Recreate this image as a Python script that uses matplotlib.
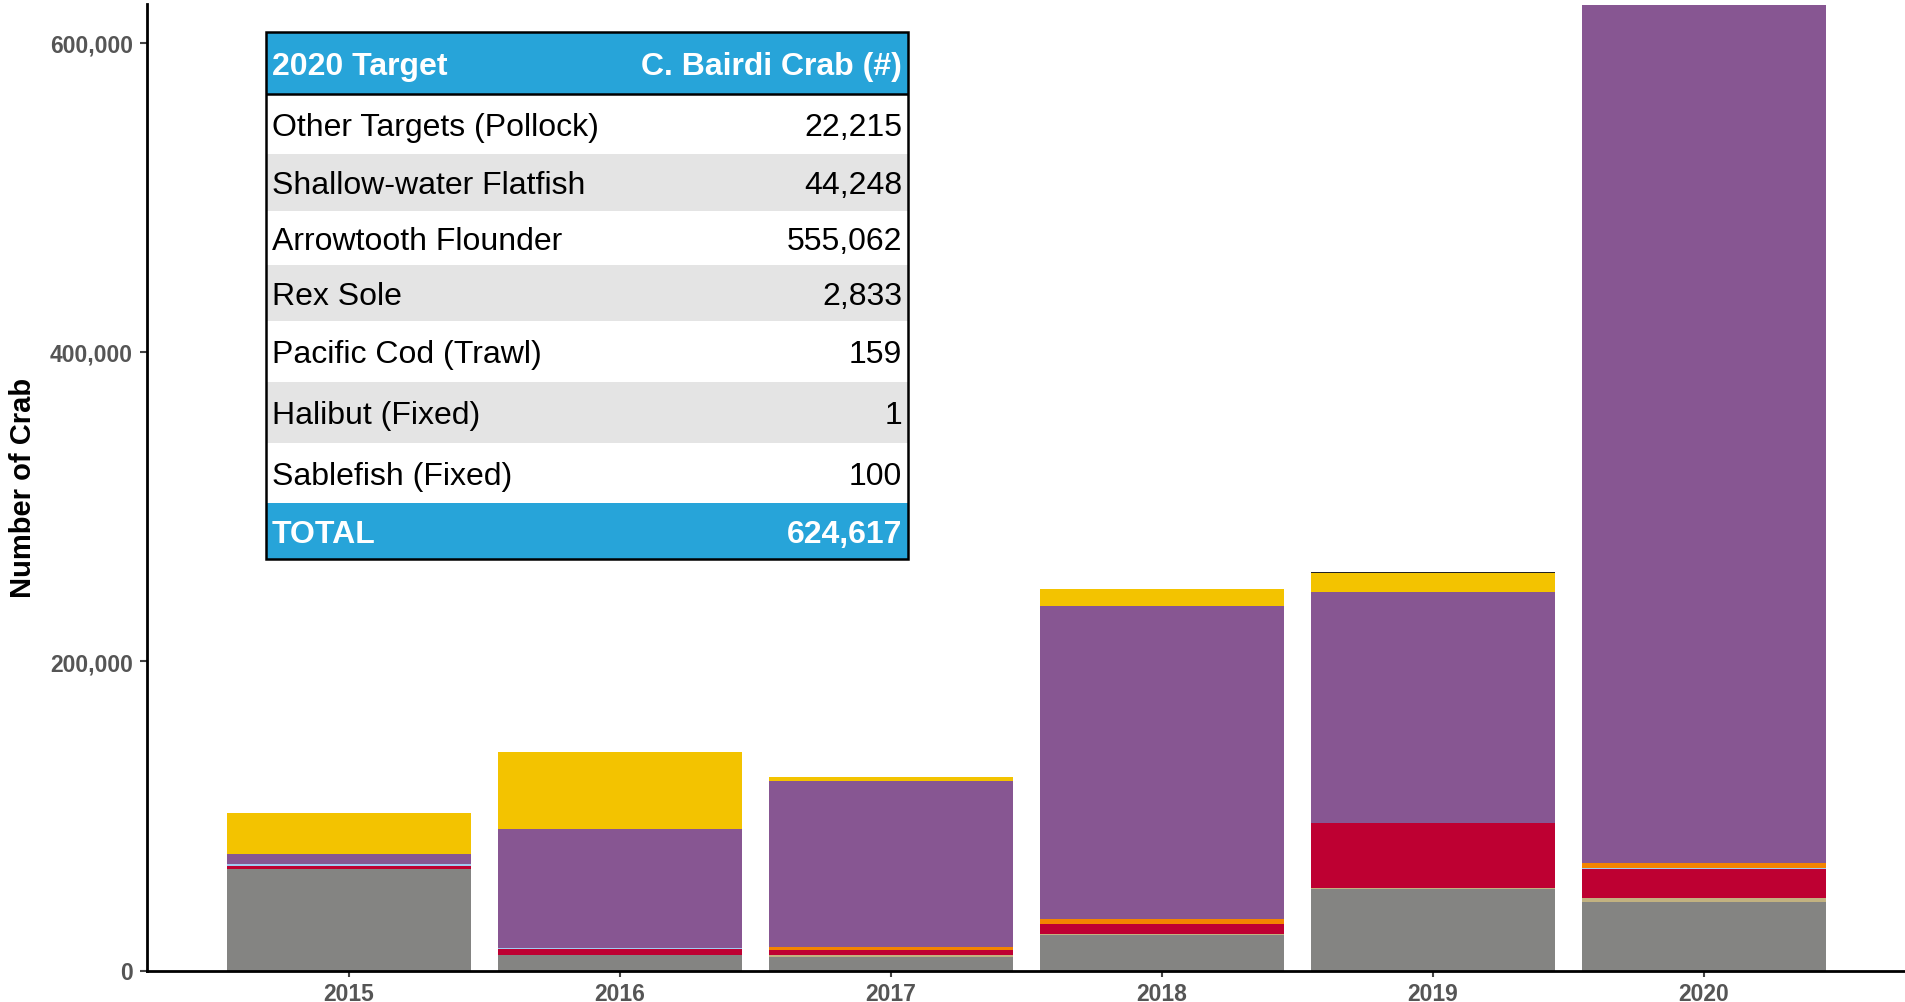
import matplotlib
matplotlib.use("Agg")
import matplotlib.pyplot as plt
from matplotlib.patches import Rectangle
import numpy as np

plt.rcParams['font.family'] = ['Liberation Sans', 'DejaVu Sans']

# Bycatch of C. bairdi crab by year, stacked by target fishery (bottom to top)
years = ["2015", "2016", "2017", "2018", "2019", "2020"]
shallow_flatfish = [65800, 10000, 8700, 23150, 52900, 44248]
rex_sole         = [0, 0, 1300, 450, 450, 2833]
pollock          = [1900, 3900, 3430, 6470, 42040, 18800]
cod_trawl        = [900, 650, 0, 0, 0, 600]
fixed_gear       = [0, 0, 1750, 3230, 0, 3075]
arrowtooth       = [6500, 77000, 107350, 202400, 149400, 555062]
other_flatfish   = [26600, 49800, 2600, 11000, 12290, 0]
other_targets    = [0, 0, 0, 0, 650, 0]

layers = [shallow_flatfish, rex_sole, pollock, cod_trawl, fixed_gear,
          arrowtooth, other_flatfish, other_targets]
layer_colors = ["#848482", "#C2B280", "#BE0032", "#A1CAF1", "#F38400",
                "#875692", "#F3C300", "#222222"]

# 2020 summary table
table_targets = ["Other Targets (Pollock)", "Shallow-water Flatfish", "Arrowtooth Flounder",
                 "Rex Sole", "Pacific Cod (Trawl)", "Halibut (Fixed)", "Sablefish (Fixed)"]
table_counts = [22215, 44248, 555062, 2833, 159, 1, 100]
table_total = 624617

W, H = 1905, 1003
fig = plt.figure(figsize=(W / 100, H / 100), dpi=100, facecolor="white")
ax = fig.add_axes([147 / W, 1 - 971.5 / H, 1 - 147 / W, (971.5 - 5) / H])

x = np.arange(len(years))
bottom = np.zeros(len(years))
for vals, col in zip(layers, layer_colors):
    ax.bar(x, vals, width=0.9, bottom=bottom, color=col, linewidth=0)
    bottom += np.array(vals)

ax.set_xlim(-0.745, 5.742)
ax.set_ylim(0, 625000)
ax.set_xticks(x)
ax.set_xticklabels(years)
yt = [0, 200000, 400000, 600000]
ax.set_yticks(yt)
ax.set_yticklabels([f"{v:,}" for v in yt])
for lab in ax.get_xticklabels() + ax.get_yticklabels():
    lab.set_fontsize(16.5)
    lab.set_fontweight("bold")
    lab.set_color("#555555")
ax.tick_params(axis="y", length=5, width=1.5, color="#444444", pad=5)
ax.tick_params(axis="x", length=4.5, width=1.5, color="#444444", pad=4)

for s in ["top", "right"]:
    ax.spines[s].set_visible(False)
for s in ["left", "bottom"]:
    ax.spines[s].set_linewidth(2)
    ax.spines[s].set_color("black")

ax.set_ylabel("Number of Crab", fontsize=21, fontweight="bold", color="black")
ax.yaxis.set_label_coords(-0.0625, 0.5)

# table drawn in pixel units on its own axes
tl, tt, tr, tb = 266, 33, 908, 560
tax = fig.add_axes([tl / W, 1 - tb / H, (tr - tl) / W, (tb - tt) / H])
tw, th = tr - tl, tb - tt
tax.set_xlim(0, tw)
tax.set_ylim(th, 0)
tax.axis("off")

blue = "#27A4D9"
# row edges from the top of the table, header first and TOTAL last
edges = [0, 62, 122, 179, 233, 289, 350, 411, 471, th]
fs = 23
dy = 3  # nudge text toward the visual middle of each row


def row_text(r, left, right, color, weight="normal"):
    yc = (edges[r] + edges[r + 1]) / 2 + dy
    tax.text(6, yc, left, color=color, fontsize=fs, fontweight=weight,
             ha="left", va="center")
    tax.text(tw - 6, yc, right, color=color, fontsize=fs, fontweight=weight,
             ha="right", va="center")


tax.add_patch(Rectangle((0, 0), tw, edges[1], facecolor=blue, edgecolor="none"))
row_text(0, "2020 Target", "C. Bairdi Crab (#)", "white", "bold")

for i, (name, cnt) in enumerate(zip(table_targets, table_counts)):
    r = i + 1
    face = "white" if i % 2 == 0 else "#E4E4E4"
    tax.add_patch(Rectangle((0, edges[r]), tw, edges[r + 1] - edges[r],
                            facecolor=face, edgecolor="none"))
    row_text(r, name, f"{cnt:,}", "black")

r = len(edges) - 2
tax.add_patch(Rectangle((0, edges[r]), tw, edges[r + 1] - edges[r],
                        facecolor=blue, edgecolor="none"))
row_text(r, "TOTAL", f"{table_total:,}", "white", "bold")

tax.plot([0, tw], [edges[1], edges[1]], color="black", lw=1.8, solid_capstyle="butt")
tax.add_patch(Rectangle((0, 0), tw, th, facecolor="none", edgecolor="black", lw=1.8,
                        clip_on=False))

fig.savefig("out.png", dpi=100, facecolor="white")
